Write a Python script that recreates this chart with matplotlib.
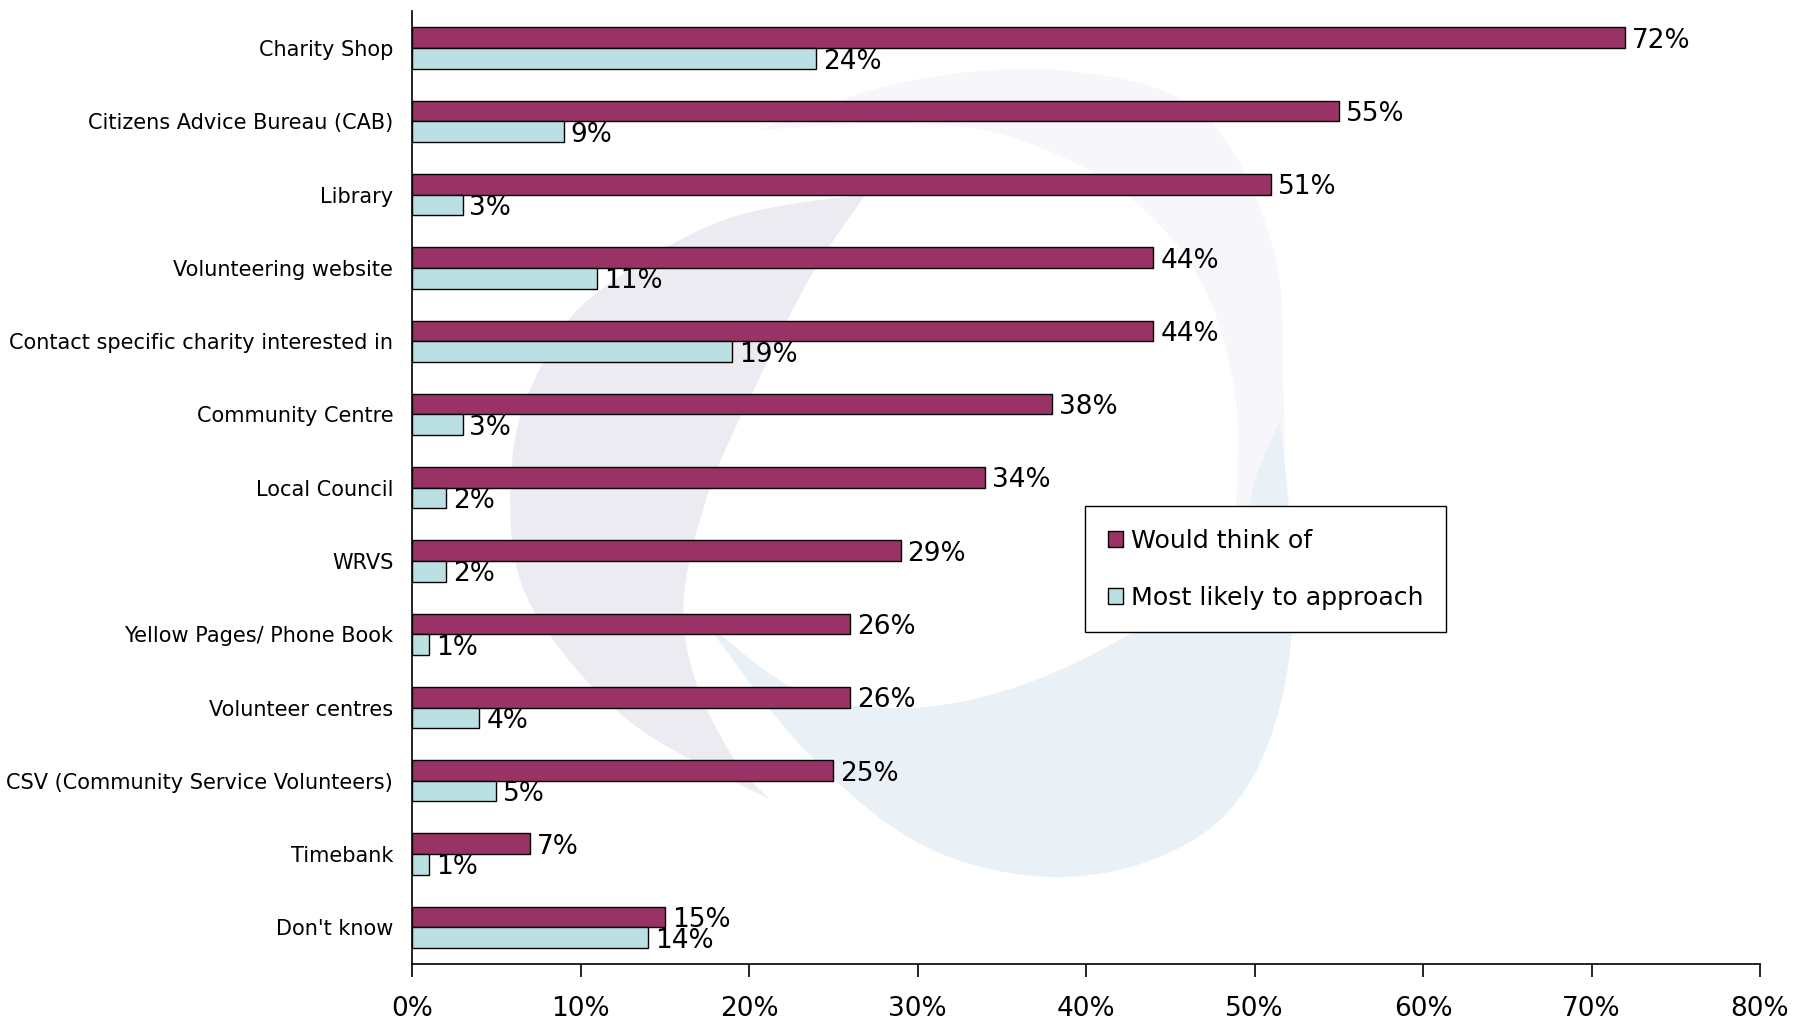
import numpy as np
import matplotlib
matplotlib.use("Agg")
import matplotlib.pyplot as plt
from matplotlib.patches import Polygon
from matplotlib.ticker import FuncFormatter

categories = [
    "Charity Shop",
    "Citizens Advice Bureau (CAB)",
    "Library",
    "Volunteering website",
    "Contact specific charity interested in",
    "Community Centre",
    "Local Council",
    "WRVS",
    "Yellow Pages/ Phone Book",
    "Volunteer centres",
    "CSV (Community Service Volunteers)",
    "Timebank",
    "Don't know",
]
would_think_of = [72, 55, 51, 44, 44, 38, 34, 29, 26, 26, 25, 7, 15]
most_likely = [24, 9, 3, 11, 19, 3, 2, 2, 1, 4, 5, 1, 14]
series_names = ["Would think of", "Most likely to approach"]
xticks = [0, 10, 20, 30, 40, 50, 60, 70, 80]

W, H = 1800, 1027
fig = plt.figure(figsize=(W / 100, H / 100), dpi=100)


def smooth(points, n=12):
    """Catmull-Rom smoothing of an open outline."""
    p = np.asarray(points, float)
    p = np.vstack([p[0], p, p[-1]])
    out = []
    for i in range(1, len(p) - 2):
        p0, p1, p2, p3 = p[i - 1], p[i], p[i + 1], p[i + 2]
        for t in np.linspace(0, 1, n, endpoint=False):
            t2, t3 = t * t, t * t * t
            out.append(0.5 * ((2 * p1) + (-p0 + p2) * t
                              + (2 * p0 - 5 * p1 + 4 * p2 - p3) * t2
                              + (-p0 + 3 * p1 - 3 * p2 + p3) * t3))
    out.append(p[-2])
    return np.array(out)


def swoosh(outer, inner, color):
    """Filled crescent between two pixel-space outlines (origin top-left)."""
    pts = np.vstack([smooth(outer), smooth(inner)])
    pts[:, 0] /= W
    pts[:, 1] = 1 - pts[:, 1] / H
    fig.patches.append(Polygon(pts, closed=True, transform=fig.transFigure,
                               facecolor=color, edgecolor="none", zorder=-1))


# faint background emblem: pale ring, blue crescent, grey crescent
swoosh([(758, 130), (908, 81), (1069, 71), (1203, 114), (1273, 247), (1283, 381),
        (1286, 500), (1292, 590)],
       [(1292, 590), (1240, 545), (1236, 400), (1200, 280), (1120, 190), (1000, 134),
        (880, 124), (758, 130)],
       "#f7f6fa")
swoosh([(1280, 420), (1294, 596), (1273, 730), (1219, 821), (1123, 869), (1016, 874),
        (908, 837), (801, 746), (705, 622)],
       [(705, 622), (801, 692), (908, 708), (1016, 687), (1123, 638), (1230, 569),
        (1255, 480), (1280, 420)],
       "#e9f1f7")
swoosh([(866, 194), (812, 274), (758, 381), (710, 488), (684, 596), (694, 676),
        (732, 756), (769, 799)],
       [(769, 799), (641, 730), (560, 649), (517, 569), (512, 462), (534, 381),
        (587, 301), (721, 221), (866, 194)],
       "#ecebf1")

ax = fig.add_axes([412 / W, 1 - 964 / H, (1760 - 412) / W, (964 - 11.5) / H])
ax.patch.set_alpha(0)

n = len(categories)
y = np.arange(n)
h = 0.282
c1, c2 = "#993366", "#BBE0E3"
b1 = ax.barh(y - h / 2, would_think_of, height=h, color=c1, edgecolor="black",
             linewidth=1.0, label=series_names[0])
b2 = ax.barh(y + h / 2, most_likely, height=h, color=c2, edgecolor="black",
             linewidth=1.0, label=series_names[1])

num_family = ["Liberation Sans Narrow", "DejaVu Sans"]
for bars, vals in ((b1, would_think_of), (b2, most_likely)):
    for bar, v in zip(bars, vals):
        ax.annotate(f"{v}%", (v, bar.get_y() + bar.get_height() / 2),
                    xytext=(5, -2.2), textcoords="offset points",
                    va="center", ha="left", family=num_family, size=19)

ax.set_ylim(n - 0.5, -0.5)
ax.set_xlim(0, 80)
ax.set_yticks(y)
ax.set_yticklabels(categories, fontsize=15, family="DejaVu Sans")
ax.tick_params(axis="y", length=0, pad=13.5)
ax.set_xticks(xticks)
ax.xaxis.set_major_formatter(FuncFormatter(lambda v, p: f"{v:.0f}%"))
ax.tick_params(axis="x", length=9, width=1.2, direction="out", pad=14)
for lab in ax.get_xticklabels():
    lab.set_fontfamily(num_family)
    lab.set_fontsize(19)

for side in ("top", "right"):
    ax.spines[side].set_visible(False)
for side in ("left", "bottom"):
    ax.spines[side].set_linewidth(1.2)

leg = ax.legend(loc="upper left",
                bbox_to_anchor=((1085 - 412) / (1760 - 412), (964 - 506) / (964 - 11.5)),
                frameon=True, fancybox=False, edgecolor="black", framealpha=1,
                prop=dict(family="DejaVu Sans", size=18.2), handlelength=0.62,
                handleheight=0.62, handletextpad=0.3, labelspacing=1.3,
                borderpad=0.9, borderaxespad=0)
leg.get_frame().set_linewidth(1.0)

fig.savefig("out.png", dpi=100)
